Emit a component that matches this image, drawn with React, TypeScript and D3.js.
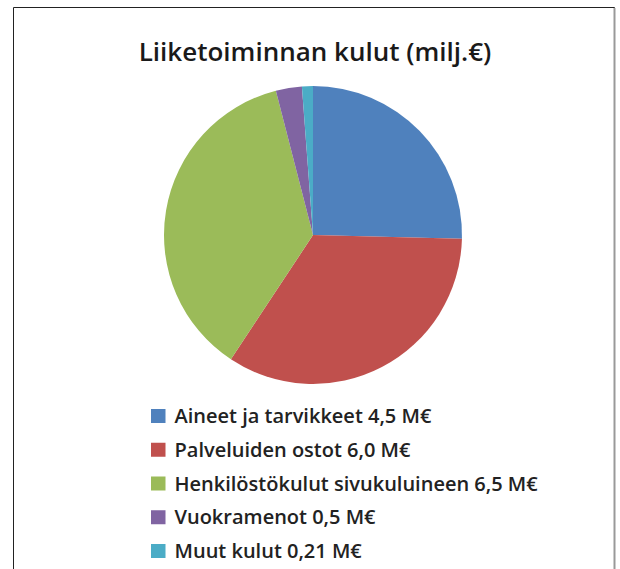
import React, { useRef, useEffect } from "react";
import * as d3 from "d3";

const categories = [
  "Aineet ja tarvikkeet 4,5 M€",
  "Palveluiden ostot 6,0 M€",
  "Henkilöstökulut sivukuluineen 6,5 M€",
  "Vuokramenot 0,5 M€",
  "Muut kulut 0,21 M€",
];
const values = [4.5, 6.0, 6.5, 0.5, 0.21];
const colors = ["#4F81BD", "#C0504D", "#9BBB59", "#8064A2", "#4BACC6"];
const title = "Liiketoiminnan kulut (milj.€)";

const App: React.FC = () => {
  const ref = useRef<SVGSVGElement | null>(null);

  useEffect(() => {
    document.body.style.margin = "0";
    const svg = d3.select(ref.current);
    svg.selectAll("*").remove();

    const width = 620;
    const height = 569;
    const font = "'Open Sans', 'Noto Sans', sans-serif";

    svg.attr("width", width).attr("height", height);
    svg.append("rect").attr("width", width).attr("height", height).attr("fill", "#fff");

    // frame
    svg
      .append("path")
      .attr("d", `M13.5,${height} V7.5 H614.5 V${height}`)
      .attr("fill", "none")
      .attr("stroke", "#222")
      .attr("stroke-width", 1);
    svg
      .append("line")
      .attr("x1", 614.5)
      .attr("x2", 614.5)
      .attr("y1", 8)
      .attr("y2", height)
      .attr("stroke", "#999")
      .attr("stroke-width", 2);

    svg
      .append("text")
      .attr("x", 315)
      .attr("y", 61)
      .attr("text-anchor", "middle")
      .attr("font-family", font)
      .attr("font-weight", 600)
      .attr("font-size", 26)
      .attr("fill", "#1a1a1a")
      .text(title);

    const cx = 313;
    const cy = 235;
    const r = 149;

    const pie = d3
      .pie<number>()
      .sort(null)
      .value((d) => d);
    const arc = d3.arc<d3.PieArcDatum<number>>().innerRadius(0).outerRadius(r);

    svg
      .append("g")
      .attr("transform", `translate(${cx},${cy})`)
      .selectAll("path")
      .data(pie(values))
      .enter()
      .append("path")
      .attr("d", arc)
      .attr("fill", (d, i) => colors[i]);

    const y = d3
      .scalePoint<string>()
      .domain(categories)
      .range([416, 551]);

    const legend = svg
      .append("g")
      .selectAll("g")
      .data(categories)
      .enter()
      .append("g")
      .attr("transform", (d) => `translate(151, ${y(d)})`);

    legend
      .append("rect")
      .attr("x", 0)
      .attr("y", -7)
      .attr("width", 14.5)
      .attr("height", 14)
      .attr("fill", (d, i) => colors[i]);

    legend
      .append("text")
      .attr("x", 23.5)
      .attr("y", 7)
      .attr("font-family", font)
      .attr("font-weight", 600)
      .attr("font-size", 20)
      .attr("fill", "#222")
      .text((d) => d);
  }, []);

  return <svg ref={ref} style={{ display: "block" }}></svg>;
};

export default App;
